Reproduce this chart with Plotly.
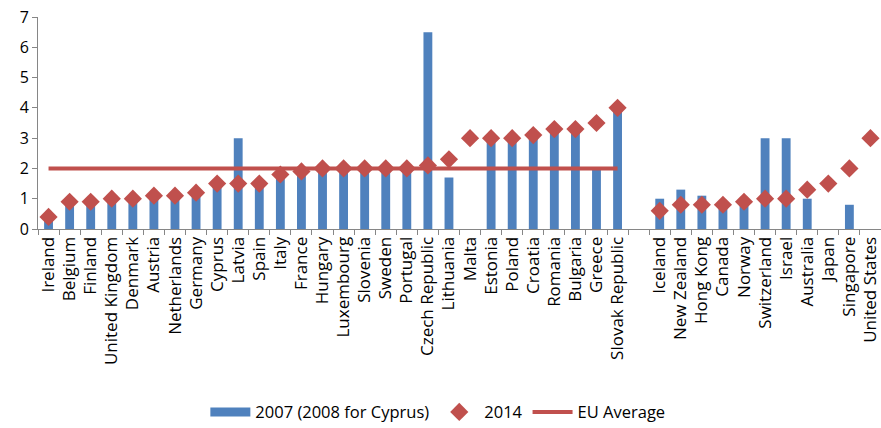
import plotly.graph_objects as go

countries = ["Ireland", "Belgium", "Finland", "United Kingdom", "Denmark", "Austria",
             "Netherlands", "Germany", "Cyprus", "Latvia", "Spain", "Italy", "France",
             "Hungary", "Luxembourg", "Slovenia", "Sweden", "Portugal", "Czech Republic",
             "Lithuania", "Malta", "Estonia", "Poland", "Croatia", "Romania", "Bulgaria",
             "Greece", "Slovak Republic", " ", "Iceland", "New Zealand", "Hong Kong",
             "Canada", "Norway", "Switzerland", "Israel", "Australia", "Japan",
             "Singapore", "United States"]

val_2007 = [0.3, 0.8, 0.8, 0.9, 0.9, 1.0, 1.0, 1.1, 1.4, 3.0, 1.4, 1.7, 1.8,
            1.9, 1.9, 1.9, 1.9, 1.9, 6.5, 1.7, None, 2.9, 2.9, 3.0, 3.2, 3.2,
            2.0, 3.9, None, 1.0, 1.3, 1.1, 0.7, 0.8, 3.0, 3.0, 1.0, None,
            0.8, None]

val_2014 = [0.4, 0.9, 0.9, 1.0, 1.0, 1.1, 1.1, 1.2, 1.5, 1.5, 1.5, 1.8, 1.9,
            2.0, 2.0, 2.0, 2.0, 2.0, 2.1, 2.3, 3.0, 3.0, 3.0, 3.1, 3.3, 3.3,
            3.5, 4.0, None, 0.6, 0.8, 0.8, 0.8, 0.9, 1.0, 1.0, 1.3, 1.5,
            2.0, 3.0]

eu_average = 2.0
eu_members = countries[:28]

y_ticks = [0, 1, 2, 3, 4, 5, 6, 7]

FONT = "Open Sans"
BLUE = "#4F81BD"
RED = "#C0504D"
AXIS = "#868686"

fig = go.Figure()
fig.add_trace(go.Bar(
    x=countries, y=val_2007, name="2007 (2008 for Cyprus)",
    marker=dict(color=BLUE, line=dict(width=0)), width=0.42,
    legendgroup="g2007", showlegend=False,
))
# legend entry for the bars (wide rectangle swatch, as in the original)
fig.add_trace(go.Scatter(
    x=[None], y=[None], mode="lines", name="2007 (2008 for Cyprus)",
    line=dict(color=BLUE, width=9), legendgroup="g2007", legendrank=1,
))
fig.add_trace(go.Scatter(
    x=[eu_members[0], eu_members[-1]], y=[eu_average, eu_average],
    mode="lines", name="EU Average", line=dict(color=RED, width=4),
    legendrank=3,
))
fig.add_trace(go.Scatter(
    x=countries, y=val_2014, name="2014", mode="markers",
    marker=dict(symbol="diamond", color=RED, size=14, line=dict(width=0)),
    legendrank=2,
))

fig.update_layout(
    width=881, height=428,
    margin=dict(l=38, r=0, t=17, b=199, autoexpand=False),
    plot_bgcolor="white", paper_bgcolor="white",
    font=dict(family=FONT, size=15, color="black"),
    showlegend=True,
    legend=dict(orientation="h", xref="container", x=0.497, xanchor="center",
                yref="container", y=0.037, yanchor="middle",
                font=dict(family=FONT, size=16.5), itemwidth=40,
                traceorder="normal"),
    xaxis=dict(
        type="category", categoryorder="array", categoryarray=countries,
        range=[-0.5, 39.5], tickangle=-90, tickson="boundaries",
        ticks="outside", ticklen=5, tickcolor=AXIS, automargin=False,
        showline=True, linecolor=AXIS, linewidth=1,
        showgrid=False, tickfont=dict(family=FONT, size=17),
    ),
    yaxis=dict(
        range=[0, 7], tickvals=y_ticks, ticks="outside", ticklen=5,
        tickcolor=AXIS, showline=True, linecolor=AXIS, linewidth=1,
        automargin=False,
        showgrid=False, zeroline=False, tickfont=dict(family=FONT, size=16),
    ),
)

fig.write_html("out.html", config={"displayModeBar": False},
               post_script="document.body.style.margin='0px';"
                           "document.body.style.overflow='hidden';")
